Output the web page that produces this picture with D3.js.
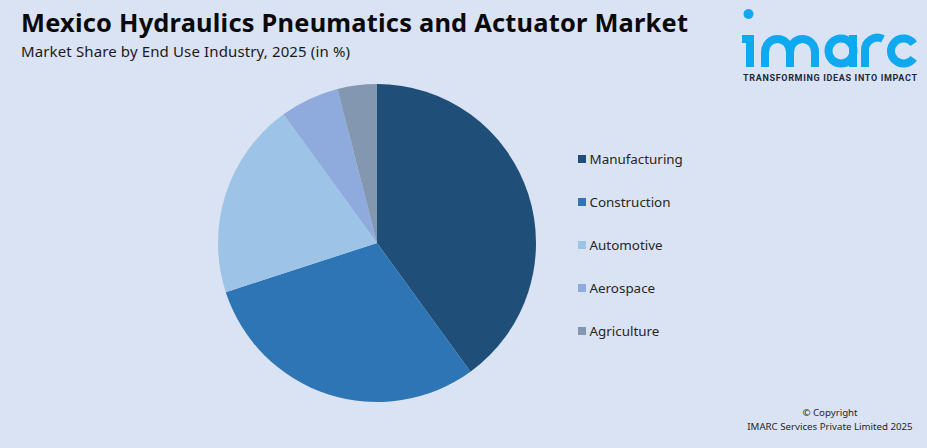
<!DOCTYPE html>
<html><head><meta charset="utf-8">
<script src="https://cdnjs.cloudflare.com/ajax/libs/d3/7.8.5/d3.min.js"></script>
<style>html,body{margin:0;padding:0;background:#dae3f3;overflow:hidden}svg{display:block}</style>
</head><body><svg id="c" width="927" height="448"></svg>
<script>
const categories = ["Manufacturing","Construction","Automotive","Aerospace","Agriculture"];
const shares = [40,30,20,6,4];
const colors = ["#1f4e79","#2e75b6","#9dc3e6","#8faadc","#8497b0"];
const titleText = "Mexico Hydraulics Pneumatics and Actuator Market";
const subtitleText = "Market Share by End Use Industry, 2025 (in %)";
const svg = d3.select("#c");
const font = "'Noto Sans', sans-serif";
svg.append("rect").attr("width",927).attr("height",448).attr("fill","#dae3f3");
svg.append("text").attr("x",21).attr("y",32).attr("font-family",font).attr("font-size",25.4).attr("font-weight",700).attr("fill","#0a0a0a").attr("textLength",667).attr("lengthAdjust","spacing").text(titleText);
svg.append("text").attr("x",21).attr("y",56.5).attr("font-family",font).attr("font-size",15).attr("fill","#1a1a1a").attr("textLength",329).attr("lengthAdjust","spacing").text(subtitleText);
const pie = d3.pie().sort(null).value(d=>d);
const arc = d3.arc().innerRadius(0).outerRadius(159);
svg.append("g").attr("transform","translate(377,243)").selectAll("path").data(pie(shares)).join("path").attr("d",arc).attr("fill",(d,i)=>colors[i]);
const ly = d3.scalePoint().domain(categories).range([159,331]);
const leg = svg.append("g").selectAll("g").data(categories).join("g").attr("transform",d=>`translate(578,${ly(d)})`);
leg.append("rect").attr("x",0).attr("y",-4).attr("width",8).attr("height",8).attr("fill",(d,i)=>colors[i]);
leg.append("text").attr("x",11.5).attr("y",5).attr("font-family",font).attr("font-size",13.4).attr("fill","#262626").text(d=>d);
const foot = svg.append("g").attr("font-family",font).attr("font-size",9.7).attr("fill","#262626").attr("text-anchor","middle");
foot.append("text").attr("x",830).attr("y",416).text("© Copyright");
foot.append("text").attr("x",830).attr("y",430).text("IMARC Services Private Limited 2025");
const logo = svg.append("g");
logo.append("title").text("imarc");
const blue = "#0fa9f0";
logo.append("circle").attr("cx",748.5).attr("cy",14).attr("r",5).attr("fill",blue);
const stroke = d => logo.append("path").attr("d",d).attr("fill","none").attr("stroke",blue).attr("stroke-width",8);
stroke("M742,39H750V67");
stroke("M765,67V52A12.5,13 0 0 1 790,52V67M790,52A12.5,13 0 0 1 815,52V67");
stroke("M853,35V67");
logo.append("circle").attr("cx",841).attr("cy",51).attr("r",12.5).attr("fill","none").attr("stroke",blue).attr("stroke-width",8);
stroke("M865,67V51.5A12.5,12.5 0 0 1 883,39");
stroke("M913.7,43.8A12.5,12.5 0 1 0 913.7,58.2");
logo.append("text").attr("x",743).attr("y",80.5).attr("font-family","Roboto, sans-serif").attr("font-size",9).attr("font-weight",700).attr("fill","#1a2a3a").attr("textLength",174).attr("lengthAdjust","spacing").text("TRANSFORMING IDEAS INTO IMPACT");
</script></body></html>
